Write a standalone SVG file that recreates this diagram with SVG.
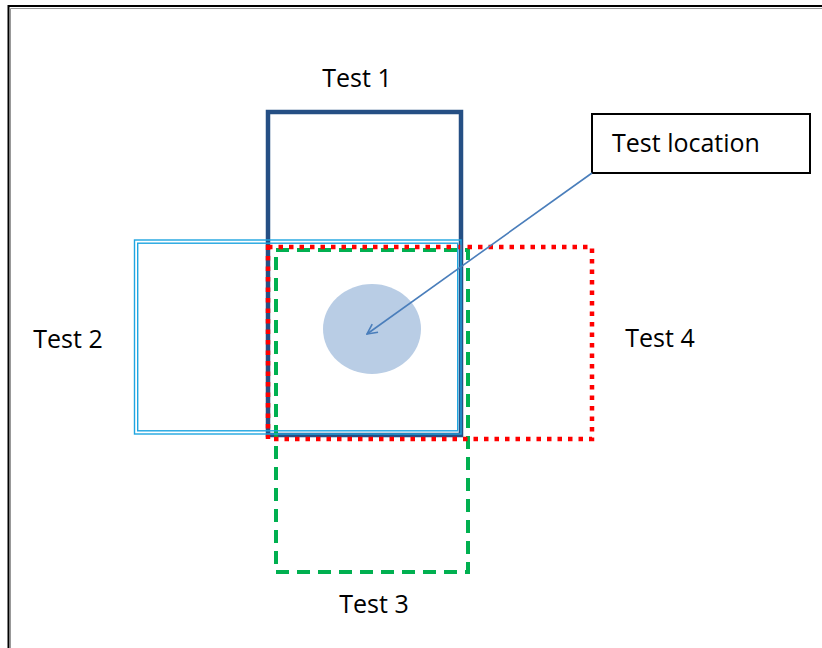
<svg xmlns="http://www.w3.org/2000/svg" width="822" height="648" viewBox="0 0 822 648">
<defs>
<style>
.lbl{font-family:"Open Sans","Liberation Sans",sans-serif;font-size:25px;fill:#000}
.t2{fill:none;stroke:#1FA5E0;stroke-width:1.4}
</style>
<marker id="arr" viewBox="0 0 12 12" refX="11" refY="6" markerWidth="12" markerHeight="12" markerUnits="userSpaceOnUse" orient="auto">
<path d="M1,1 L11,6 L1,11" fill="none" stroke="#4A7EBB" stroke-width="1.6"/>
</marker>
</defs>
<rect width="822" height="648" fill="#fff"/>
<g id="frame">
<path d="M8.5,648 V6 H822" fill="none" stroke="#000" stroke-width="2"/>
<path d="M10.5,648 V8.5 H822" fill="none" stroke="#999" stroke-width="1"/>
</g>
<g id="test1">
<rect x="268" y="112" width="193" height="323" fill="none" stroke="#254F84" stroke-width="4.5"/>
</g>
<g id="test3">
<rect x="276" y="250" width="192" height="322" fill="none" stroke="#00B050" stroke-width="4" stroke-dasharray="13,8"/>
</g>
<g id="test4">
<rect x="268" y="247" width="324" height="192" fill="none" stroke="#FF0000" stroke-width="4.5" stroke-dasharray="4.5,6"/>
</g>
<g id="test2">
<rect class="t2" x="134.5" y="240" width="326.5" height="194"/>
<rect class="t2" x="137.7" y="243.2" width="320" height="187.6"/>
</g>
<g id="location">
<ellipse cx="372" cy="329" rx="49" ry="45" fill="#B9CDE5"/>
</g>
<g id="callout">
<rect x="592" y="114" width="218" height="59" fill="#fff" stroke="#000" stroke-width="2"/>
<text class="lbl" x="612" y="152">Test location</text>
</g>
<g id="connectors">
<line x1="592" y1="173" x2="367" y2="334" stroke="#4A7EBB" stroke-width="1.6" marker-end="url(#arr)"/>
</g>
<g id="labels">
<text class="lbl" x="357" y="87" text-anchor="middle">Test 1</text>
<text class="lbl" x="68" y="348" text-anchor="middle">Test 2</text>
<text class="lbl" x="374" y="613" text-anchor="middle">Test 3</text>
<text class="lbl" x="660" y="347" text-anchor="middle">Test 4</text>
</g>
</svg>
